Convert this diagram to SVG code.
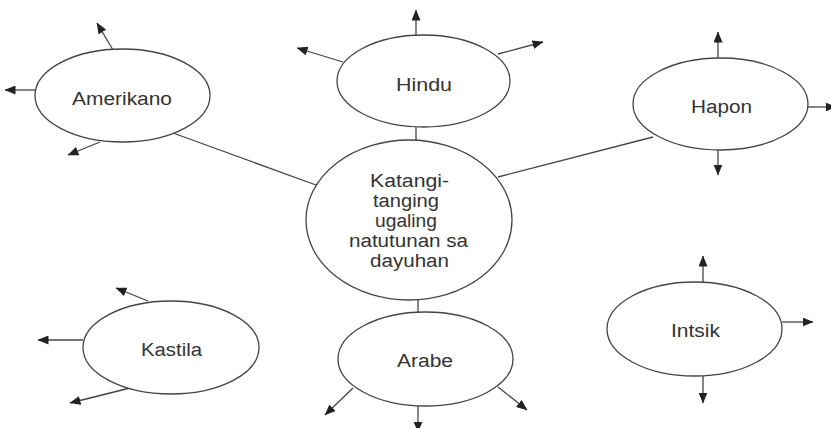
<svg xmlns="http://www.w3.org/2000/svg" width="831" height="428" viewBox="0 0 831 428">
<defs>
<marker id="ah" viewBox="0 0 11 9" refX="10.5" refY="4.5" markerWidth="11" markerHeight="9" markerUnits="userSpaceOnUse" orient="auto">
<path d="M0,0 L11,4.5 L0,9 z" fill="#222"/>
</marker>
</defs>
<style>
.n ellipse{fill:#fff;stroke:#444;stroke-width:1.3}
.n text{font-family:"Liberation Sans",Arial,sans-serif;font-size:18px;fill:#333}
.c line{stroke:#444;stroke-width:1.3}
.c line.a{marker-end:url(#ah)}
</style>
<rect width="831" height="428" fill="#fff"/>
<g id="connectors" class="c">
<line x1="173" y1="133" x2="316" y2="185"/>
<line x1="416" y1="127" x2="416" y2="141"/>
<line x1="653" y1="137" x2="498" y2="177"/>
<line x1="418" y1="300" x2="418" y2="312"/>
<line class="a" x1="113" y1="50" x2="97" y2="23"/>
<line class="a" x1="35" y1="90" x2="5" y2="90"/>
<line class="a" x1="100" y1="142" x2="68" y2="155"/>
<line class="a" x1="416" y1="35" x2="416" y2="10"/>
<line class="a" x1="343" y1="62" x2="297" y2="48"/>
<line class="a" x1="498" y1="54" x2="543" y2="42"/>
<line class="a" x1="718" y1="58" x2="718" y2="32"/>
<line class="a" x1="808" y1="107" x2="836" y2="107"/>
<line class="a" x1="718" y1="150" x2="718" y2="175"/>
<line class="a" x1="148" y1="301" x2="116" y2="288"/>
<line class="a" x1="83" y1="340" x2="38" y2="340"/>
<line class="a" x1="130" y1="388" x2="70" y2="403"/>
<line class="a" x1="353" y1="388" x2="325" y2="415"/>
<line class="a" x1="418" y1="406" x2="418" y2="432"/>
<line class="a" x1="498" y1="387" x2="527" y2="410"/>
<line class="a" x1="703" y1="282" x2="703" y2="256"/>
<line class="a" x1="782" y1="322" x2="813" y2="322"/>
<line class="a" x1="703" y1="376" x2="703" y2="403"/>
</g>
<g id="amerikano" class="n">
<ellipse cx="122.5" cy="95.5" rx="87.5" ry="46.5"/>
<text x="72" y="105" textLength="100" lengthAdjust="spacingAndGlyphs">Amerikano</text>
</g>
<g id="hindu" class="n">
<ellipse cx="423.5" cy="81" rx="86.5" ry="46"/>
<text x="396" y="91" textLength="56" lengthAdjust="spacingAndGlyphs">Hindu</text>
</g>
<g id="hapon" class="n">
<ellipse cx="720.5" cy="104" rx="87.5" ry="46"/>
<text x="691" y="113" textLength="61" lengthAdjust="spacingAndGlyphs">Hapon</text>
</g>
<g id="center" class="n">
<ellipse cx="409" cy="220" rx="103" ry="80"/>
<text x="409.5" y="187" text-anchor="middle" textLength="79" lengthAdjust="spacingAndGlyphs">Katangi-</text>
<text x="406" y="207" text-anchor="middle" textLength="66" lengthAdjust="spacingAndGlyphs">tanging</text>
<text x="406" y="227" text-anchor="middle" textLength="62" lengthAdjust="spacingAndGlyphs">ugaling</text>
<text x="408.5" y="247" text-anchor="middle" textLength="119" lengthAdjust="spacingAndGlyphs">natutunan sa</text>
<text x="409.5" y="267" text-anchor="middle" textLength="79" lengthAdjust="spacingAndGlyphs">dayuhan</text>
</g>
<g id="kastila" class="n">
<ellipse cx="171" cy="347.5" rx="88" ry="46.5"/>
<text x="141" y="356" textLength="61" lengthAdjust="spacingAndGlyphs">Kastila</text>
</g>
<g id="arabe" class="n">
<ellipse cx="425.5" cy="359" rx="87.5" ry="47"/>
<text x="397" y="367" textLength="56" lengthAdjust="spacingAndGlyphs">Arabe</text>
</g>
<g id="intsik" class="n">
<ellipse cx="694.5" cy="329" rx="87.5" ry="47"/>
<text x="671" y="337" textLength="49" lengthAdjust="spacingAndGlyphs">Intsik</text>
</g>
</svg>
